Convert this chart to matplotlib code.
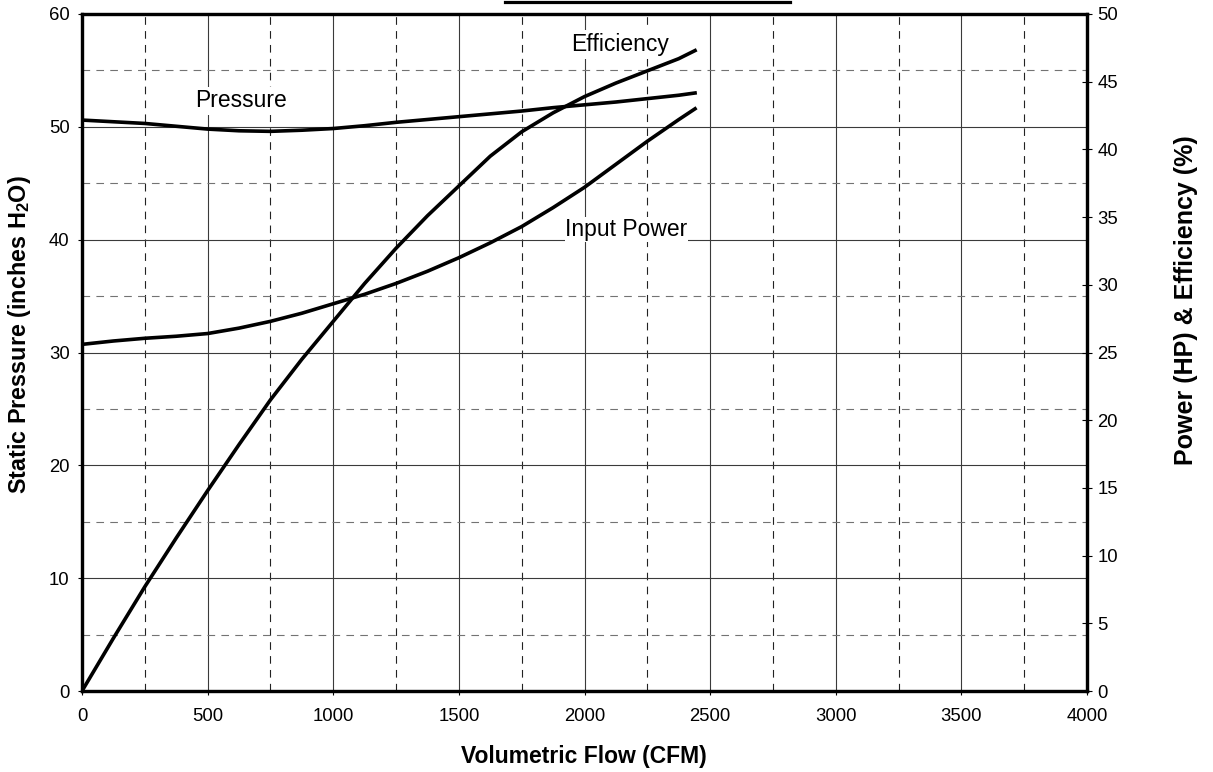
import numpy as np
import matplotlib
matplotlib.use("Agg")
import matplotlib.pyplot as plt
from matplotlib.lines import Line2D
from matplotlib.ticker import MultipleLocator

plt.rcParams['font.family'] = ['Liberation Sans', 'DejaVu Sans']
plt.rcParams['mathtext.fontset'] = 'custom'
plt.rcParams['mathtext.rm'] = 'Liberation Sans'
plt.rcParams['mathtext.bf'] = 'Liberation Sans:bold'
plt.rcParams['lines.scale_dashes'] = False

# fan curve readings (CFM)
flow = [0, 125, 250, 375, 500, 625, 750, 875, 1000, 1125, 1250,
        1375, 1500, 1625, 1750, 1875, 2000, 2125, 2250, 2375, 2440]
# static pressure, inches H2O (left axis)
pressure = [50.6, 50.45, 50.3, 50.05, 49.8, 49.65, 49.6, 49.7, 49.85, 50.1, 50.4,
            50.65, 50.9, 51.15, 51.4, 51.7, 51.95, 52.2, 52.5, 52.8, 53.0]
# efficiency, % (right axis)
efficiency = [0.0, 3.9, 7.7, 11.3, 14.8, 18.2, 21.5, 24.5, 27.3, 30.1, 32.7,
              35.1, 37.3, 39.5, 41.3, 42.7, 43.9, 44.9, 45.8, 46.7, 47.3]
# input power, HP (right axis)
power = [25.6, 25.85, 26.05, 26.2, 26.4, 26.8, 27.3, 27.9, 28.6, 29.3, 30.1,
         31.0, 32.0, 33.1, 34.3, 35.7, 37.2, 38.9, 40.6, 42.2, 43.0]

W, H = 1213, 772
fig = plt.figure(figsize=(W / 100, H / 100), dpi=100)
ax = fig.add_axes([82 / W, 1 - 691 / H, (1087 - 82) / W, (691 - 14) / H])
ax2 = ax.twinx()

ax.set_xlim(0, 4000)
ax.set_ylim(0, 60)
ax2.set_ylim(0, 50)

ax.xaxis.set_major_locator(MultipleLocator(500))
ax.xaxis.set_minor_locator(MultipleLocator(250))
ax.yaxis.set_major_locator(MultipleLocator(10))
ax.yaxis.set_minor_locator(MultipleLocator(5))
ax2.yaxis.set_major_locator(MultipleLocator(5))

# grid
ax.set_axisbelow(True)
ax.grid(which='major', axis='both', color='#3a3a3a', lw=0.8, ls='-')
ax.grid(which='minor', axis='x', color='#222222', lw=0.8, ls=(0, (5.5, 4.5)))
ax.grid(which='minor', axis='y', color='#737373', lw=0.8, ls=(0, (5.5, 4.5)))

ax.plot(flow, pressure, color='k', lw=2.6, solid_joinstyle='round', zorder=3)
ax2.plot(flow, efficiency, color='k', lw=2.6, solid_joinstyle='round', zorder=3)
ax2.plot(flow, power, color='k', lw=2.6, solid_joinstyle='round', zorder=3)

# curve labels (white boxes hide lines underneath)
box = dict(boxstyle='square,pad=0.12', fc='white', ec='none')
ax2.text(633, 52.3, 'Pressure', transform=ax.transData, ha='center', va='center',
         fontsize=16.5, bbox=box, zorder=5)
ax2.text(2143, 57.3, 'Efficiency', transform=ax.transData, ha='center', va='center',
         fontsize=16.5, bbox=box, zorder=5)
ax2.text(2167, 40.9, 'Input Power', transform=ax.transData, ha='center', va='center',
         fontsize=16.5, bbox=dict(boxstyle='square,pad=0.03', fc='white', ec='none'),
         zorder=5)

# ticks
ax.tick_params(axis='both', which='major', labelsize=13.3, direction='out', length=3,
               width=0.8, colors='k', pad=6)
ax.tick_params(axis='both', which='minor', length=0)
ax.tick_params(axis='x', pad=9)
ax2.tick_params(axis='y', which='major', labelsize=13.3, direction='inout', length=7,
                width=0.8, pad=4)
ax2.tick_params(axis='y', which='minor', length=0)

for a in (ax, ax2):
    for s in a.spines.values():
        s.set_linewidth(2.3)
        s.set_color('k')

fig.text(584 / W, 1 - 756 / H, 'Volumetric Flow (CFM)', ha='center', va='center',
         fontsize=16.5, fontweight='bold')
fig.text(20 / W, 1 - 335 / H, r'Static Pressure (inches H$_\mathbf{2}$O)', ha='center',
         va='center', rotation=90, fontsize=16.8, fontweight='bold')
fig.text(1186 / W, 1 - 300 / H, 'Power (HP) & Efficiency (%)', ha='center', va='center',
         rotation=90, fontsize=18, fontweight='bold')

# bottom edge of the title box above the plot
fig.add_artist(Line2D([505 / W, 790 / W], [1 - 1.5 / H, 1 - 1.5 / H], color='k', lw=2.3))

fig.savefig('out.png', dpi=100)
